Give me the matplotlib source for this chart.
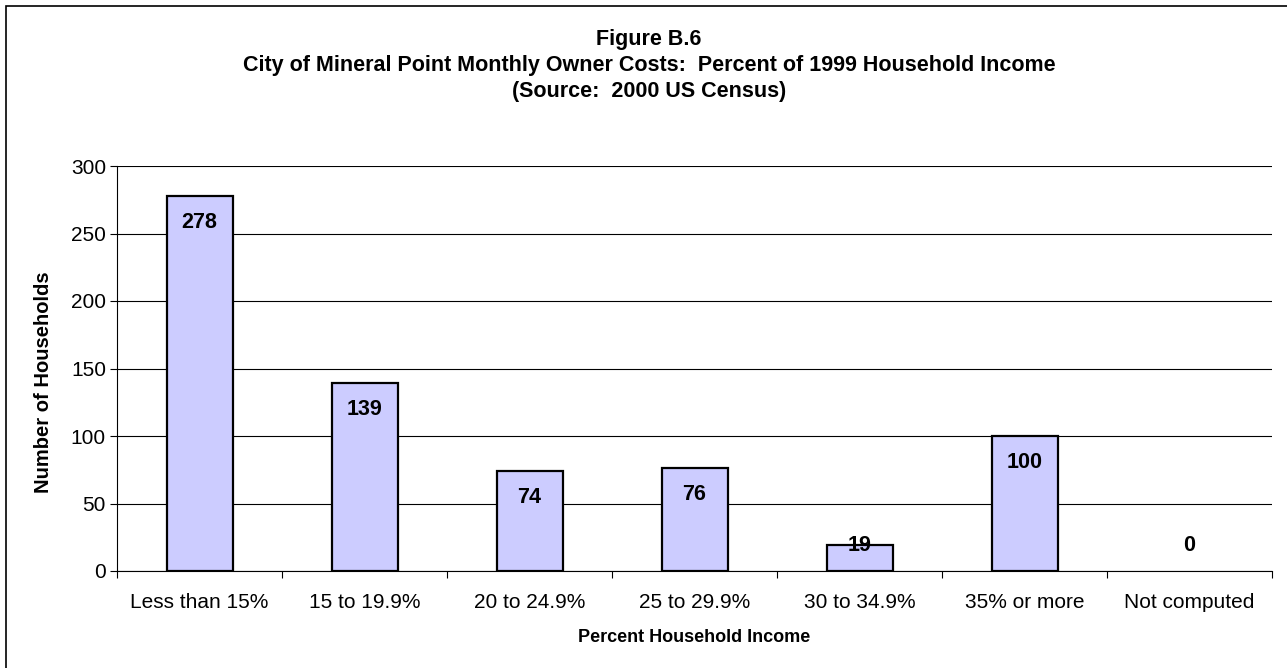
import numpy as np
import matplotlib
matplotlib.use('Agg')
import matplotlib.pyplot as plt
from matplotlib.patches import Rectangle

# Figure B.6 - monthly owner costs as percent of household income
categories = ['Less than 15%', '15 to 19.9%', '20 to 24.9%', '25 to 29.9%',
              '30 to 34.9%', '35% or more', 'Not computed']
households = [278, 139, 74, 76, 19, 100, 0]
yticks = [0, 50, 100, 150, 200, 250, 300]

title_lines = ['Figure B.6',
               'City of Mineral Point Monthly Owner Costs:  Percent of 1999 Household Income',
               '(Source:  2000 US Census)']

plt.rcParams['font.family'] = ['Liberation Sans', 'DejaVu Sans']

fig = plt.figure(figsize=(12.87, 6.68), dpi=100)
ax = fig.add_axes([117 / 1287, 97 / 668, 1155 / 1287, 405 / 668])

# outer frame (right/bottom edges fall outside the picture)
fig.patches.append(Rectangle((6 / 1287, -0.1), 1.2, 662 / 668 + 0.1,
                             transform=fig.transFigure, fill=False,
                             edgecolor='black', linewidth=1.2))

x = np.arange(len(categories))
bars = ax.bar(x, households, width=0.40, color='#CCCCFF', edgecolor='black',
              linewidth=1.6, zorder=3)
for b, v in zip(bars, households):
    if v == 0:
        b.set_visible(False)

# labels sit just inside the bar top, but never lower than a fixed height
min_label = 38.6
for xi, v in zip(x, households):
    ax.annotate(str(v), (xi, max(v, min_label)), xytext=(0, -19),
                textcoords='offset points', ha='center', va='center',
                fontsize=15.5, fontweight='bold', zorder=4)

ax.set_xlim(-0.5, len(categories) - 0.5)
ax.set_ylim(0, 300)
ax.set_yticks(yticks)
ax.tick_params(axis='y', labelsize=15, length=5, width=0.8, pad=3)
ax.yaxis.grid(True, color='black', linewidth=0.8)
ax.set_axisbelow(True)

ax.set_xticks(x)
ax.set_xticklabels(categories)
ax.set_xticks(np.arange(-0.5, len(categories)), minor=True)
ax.tick_params(axis='x', which='major', length=0, labelsize=15, pad=16)
ax.tick_params(axis='x', which='minor', length=5, width=0.8, direction='out')

for side in ['top', 'right']:
    ax.spines[side].set_visible(False)
for side in ['left', 'bottom']:
    ax.spines[side].set_linewidth(0.8)

ax.set_xlabel('Percent Household Income', fontsize=13, fontweight='bold')
ax.xaxis.set_label_coords(0.5, -(637 - 571) / 405)
ax.set_ylabel('Number of Households', fontsize=14.5, fontweight='bold')
ax.yaxis.set_label_coords(-(117 - 44) / 1155, (571 - 382) / 405)
ax.xaxis.label.set_va('center')
ax.yaxis.label.set_va('center')

for i, line in enumerate(title_lines):
    fig.text(649 / 1287, 1 - (40 + 25.5 * i) / 668, line, ha='center', va='center',
             fontsize=15.5, fontweight='bold')

fig.savefig('out.png', dpi=100)
